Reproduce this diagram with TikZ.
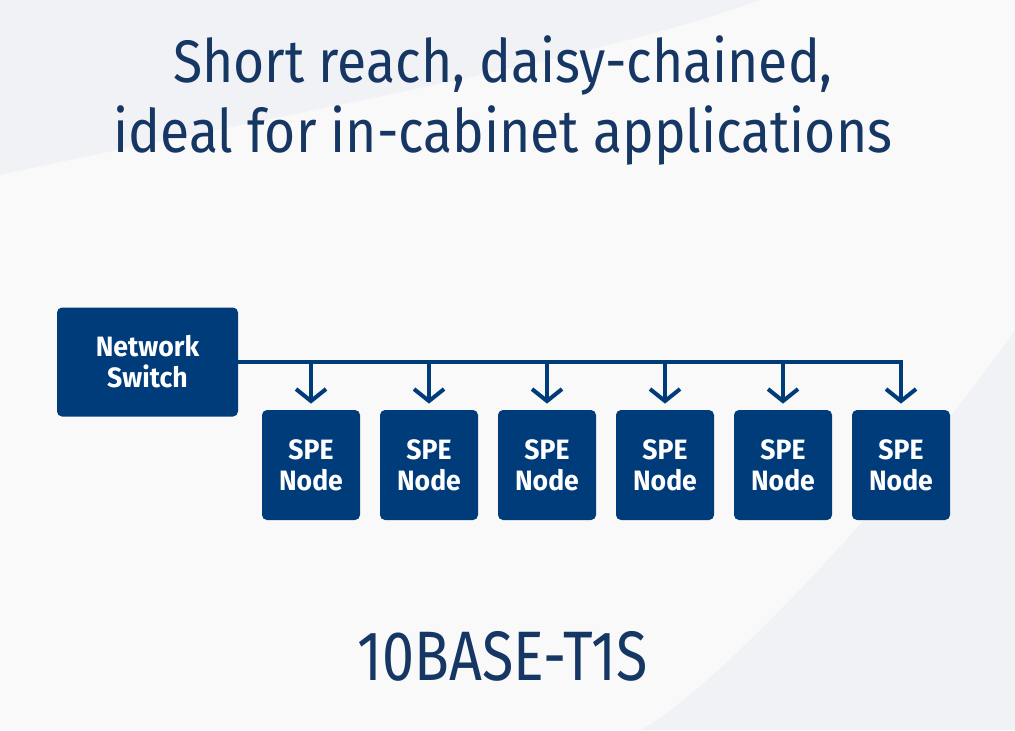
\documentclass[tikz,border=0pt]{standalone}
\usepackage{fontspec}
\setmainfont{Fira Sans}
\newfontfamily\headfont[FakeStretch=0.89]{Fira Sans}
\newfontfamily\stdfont[FakeStretch=0.82]{Fira Sans}
\newfontfamily\boxfont[FakeStretch=0.95]{Fira Sans}
\usetikzlibrary{arrows.meta,positioning}

\definecolor{speblue}{RGB}{0,59,122}
\definecolor{headblue}{RGB}{22,54,99}
\definecolor{bggray}{RGB}{241,242,245}
\definecolor{bglight}{RGB}{249,249,250}

\tikzset{
  box/.style={fill=speblue,rounded corners=2.5pt,text=white,align=center,inner sep=0pt,
    font=\boxfont\bfseries\fontsize{14}{15.5}\selectfont},
  spebox/.style={box,minimum width=49pt,minimum height=55pt},
  link/.style={draw=speblue,line width=2pt,-{Straight Barb[length=6pt,width=15pt]},shorten >=3pt},
  head/.style={text=headblue,inner sep=0pt,anchor=base,font=\headfont\fontsize{30}{35}\selectfont}
}

\begin{document}
\begin{tikzpicture}[x=0.5pt,y=-0.5pt]
%背景
\useasboundingbox (0,0) rectangle (1015,730);
\fill[bggray] (0,0) rectangle (1015,730);
\fill[bglight] (0,175) .. controls (250,120) and (600,60) .. (760,0) -- (1015,0) -- (1015,330)
  .. controls (880,520) and (700,700) .. (640,730) -- (0,730) -- cycle;

%見出し
\node[head] (t1) at (503,82) {Short reach, daisy-chained,};
\node[head] (t2) at (503,152) {ideal for in-cabinet applications};

%スイッチ
\node[box,minimum width=90.5pt,minimum height=54.5pt] (sw) at (147.5,362) {Network\\Switch};

%ノード
\foreach \i/\x in {1/311,2/429,3/547,4/665,5/783,6/901}
  \node[spebox] (n\i) at (\x,465) {SPE\\Node};

%バス
\draw[link] (sw.east) -| (n6.north);
\foreach \i in {1,...,5}
  \draw[link] (n\i |- sw.east) -- (n\i.north);

%規格
\node[head,font=\stdfont\fontsize{35}{40}\selectfont] (std) at (503,680) {10BASE-T1S};
\end{tikzpicture}
\end{document}
